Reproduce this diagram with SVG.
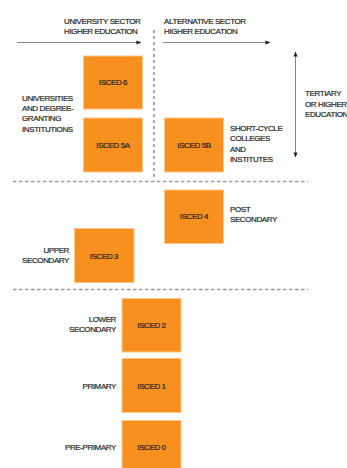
<svg xmlns="http://www.w3.org/2000/svg" width="347" height="468" viewBox="0 0 347 468">
<style>
text{font-family:"Liberation Sans",Arial,sans-serif;font-size:8px;letter-spacing:-0.4px;fill:#231f20;stroke:#231f20;stroke-width:0.2px}
.box{fill:#F7901E;stroke:#FBC58C;stroke-width:1}
.bt{text-anchor:middle}
.r{text-anchor:end}
.dash{stroke:#9a9a9a;stroke-width:1.3;stroke-dasharray:3.5 2.5;fill:none}
.vdash{stroke:#555;stroke-width:1;stroke-dasharray:3 3;fill:none}
.arr{stroke:#777;stroke-width:0.9;fill:none}
</style>
<defs>
<marker id="ah" viewBox="0 0 6 6" refX="5.5" refY="3" markerWidth="5" markerHeight="5" markerUnits="userSpaceOnUse" orient="auto-start-reverse">
<path d="M0,0.5 L6,3 L0,5.5 Z" fill="#222"/>
</marker>
</defs>
<g id="connectors">
<line class="arr" x1="17" y1="42.5" x2="141" y2="42.5" marker-end="url(#ah)"/>
<line class="arr" x1="163" y1="42.5" x2="270" y2="42.5" marker-end="url(#ah)"/>
<line class="arr" x1="295.5" y1="52" x2="295.5" y2="157" marker-start="url(#ah)" marker-end="url(#ah)"/>
<line class="vdash" x1="154" y1="30" x2="154" y2="180"/>
<line class="dash" x1="13" y1="181.5" x2="308" y2="181.5"/>
<line class="dash" x1="13" y1="289.5" x2="308" y2="289.5"/>
</g>
<g id="headers">
<text x="64" y="24">UNIVERSITY SECTOR</text>
<text x="64" y="34.3">HIGHER EDUCATION</text>
<text x="164" y="24">ALTERNATIVE SECTOR</text>
<text x="164" y="34.3">HIGHER EDUCATION</text>
</g>
<g id="label-universities">
<text x="22" y="100.7">UNIVERSITIES</text>
<text x="22" y="111">AND DEGREE-</text>
<text x="22" y="121.3">GRANTING</text>
<text x="22" y="131.5">INSTITUTIONS</text>
</g>
<g id="label-tertiary">
<text x="305" y="96.3">TERTIARY</text>
<text x="305" y="106.7">OR HIGHER</text>
<text x="305" y="116.9">EDUCATION</text>
</g>
<g id="label-shortcycle">
<text x="230" y="131">SHORT-CYCLE</text>
<text x="230" y="141.3">COLLEGES</text>
<text x="230" y="151.7">AND</text>
<text x="230" y="162">INSTITUTES</text>
</g>
<g id="isced6"><rect class="box" x="83.5" y="56" width="59" height="53"/><text class="bt" x="113" y="85.3">ISCED 6</text></g>
<g id="isced5a"><rect class="box" x="83.5" y="118" width="59" height="54"/><text class="bt" x="113" y="147.7">ISCED 5A</text></g>
<g id="isced5b"><rect class="box" x="164.5" y="118" width="59" height="54"/><text class="bt" x="194" y="147.7">ISCED 5B</text></g>
<g id="isced4"><rect class="box" x="164.5" y="190" width="59" height="53.5"/><text class="bt" x="194" y="219.3">ISCED 4</text></g>
<g id="label-post">
<text x="230" y="211.7">POST</text>
<text x="230" y="222">SECONDARY</text>
</g>
<g id="isced3"><rect class="box" x="74.5" y="228.5" width="59.5" height="54"/><text class="bt" x="104" y="258.7">ISCED 3</text></g>
<g id="label-upper">
<text class="r" x="69" y="253">UPPER</text>
<text class="r" x="69" y="263.3">SECONDARY</text>
</g>
<g id="isced2"><rect class="box" x="122" y="298.5" width="59" height="53.5"/><text class="bt" x="151.5" y="327.7">ISCED 2</text></g>
<g id="label-lower">
<text class="r" x="116" y="321.7">LOWER</text>
<text class="r" x="116" y="332">SECONDARY</text>
</g>
<g id="isced1"><rect class="box" x="122" y="358.5" width="59" height="54"/><text class="bt" x="151.5" y="388.7">ISCED 1</text></g>
<g id="label-primary"><text class="r" x="116" y="388.5">PRIMARY</text></g>
<g id="isced0"><rect class="box" x="122" y="420.5" width="59" height="50"/><text class="bt" x="151.5" y="450">ISCED 0</text></g>
<g id="label-preprimary"><text class="r" x="116" y="449.8">PRE-PRIMARY</text></g>
</svg>
